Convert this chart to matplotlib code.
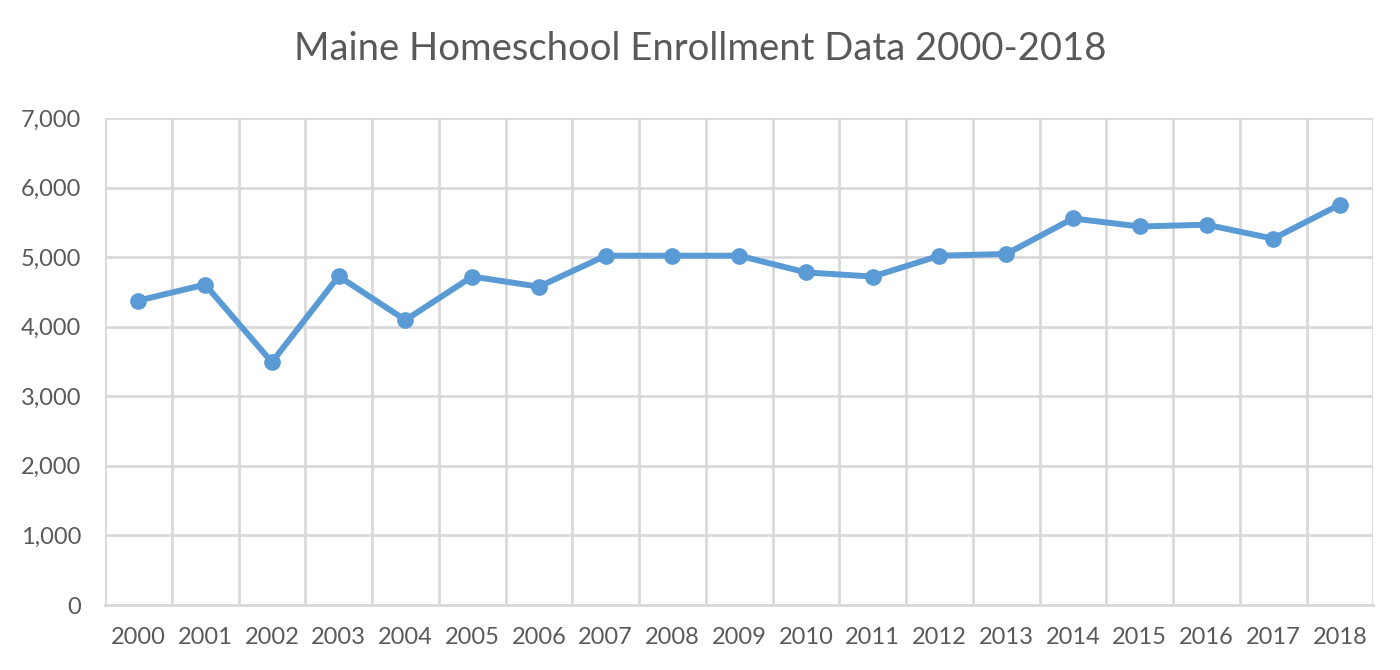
import matplotlib.pyplot as plt
from matplotlib.ticker import FuncFormatter, MultipleLocator

years = [str(y) for y in range(2000, 2019)]
enrollment = [4375, 4605, 3490, 4725, 4095, 4720, 4575, 5020, 5020, 5020,
              4780, 4720, 5020, 5045, 5555, 5440, 5465, 5265, 5755]

plt.rcParams['font.family'] = ['Lato', 'DejaVu Sans']
text_color = '#595959'
grid_color = '#D9D9D9'

fig = plt.figure(figsize=(14, 6.7), dpi=100)
ax = fig.add_axes([0.075, 0.097, 0.906, 0.727])

x = list(range(len(years)))
ax.plot(x, enrollment, color='#5B9BD5', linewidth=4.3, marker='o', markersize=11, zorder=3)

ax.set_xlim(-0.5, len(years) - 0.5)
ax.set_ylim(0, 7000)
ax.yaxis.set_major_locator(MultipleLocator(1000))
ax.yaxis.set_major_formatter(FuncFormatter(lambda v, p: f'{int(v):,}'))
ax.set_xticks(x)
ax.set_xticklabels(years)
ax.set_xticks([i - 0.5 for i in range(len(years) + 1)], minor=True)

ax.grid(axis='y', which='major', color=grid_color, linewidth=2)
ax.grid(axis='x', which='minor', color=grid_color, linewidth=2)
ax.set_axisbelow(True)

for s in ['top', 'right', 'left']:
    ax.spines[s].set_visible(False)
ax.spines['bottom'].set_color(grid_color)
ax.spines['bottom'].set_linewidth(2)

ax.tick_params(axis='both', which='both', length=0, labelsize=17, colors=text_color)
ax.tick_params(axis='x', pad=16)
ax.tick_params(axis='y', pad=17)

fig.text(0.5, 0.927, 'Maine Homeschool Enrollment Data 2000-2018', ha='center', va='center',
         fontsize=27.5, color=text_color)

fig.savefig('out.png', dpi=100)
